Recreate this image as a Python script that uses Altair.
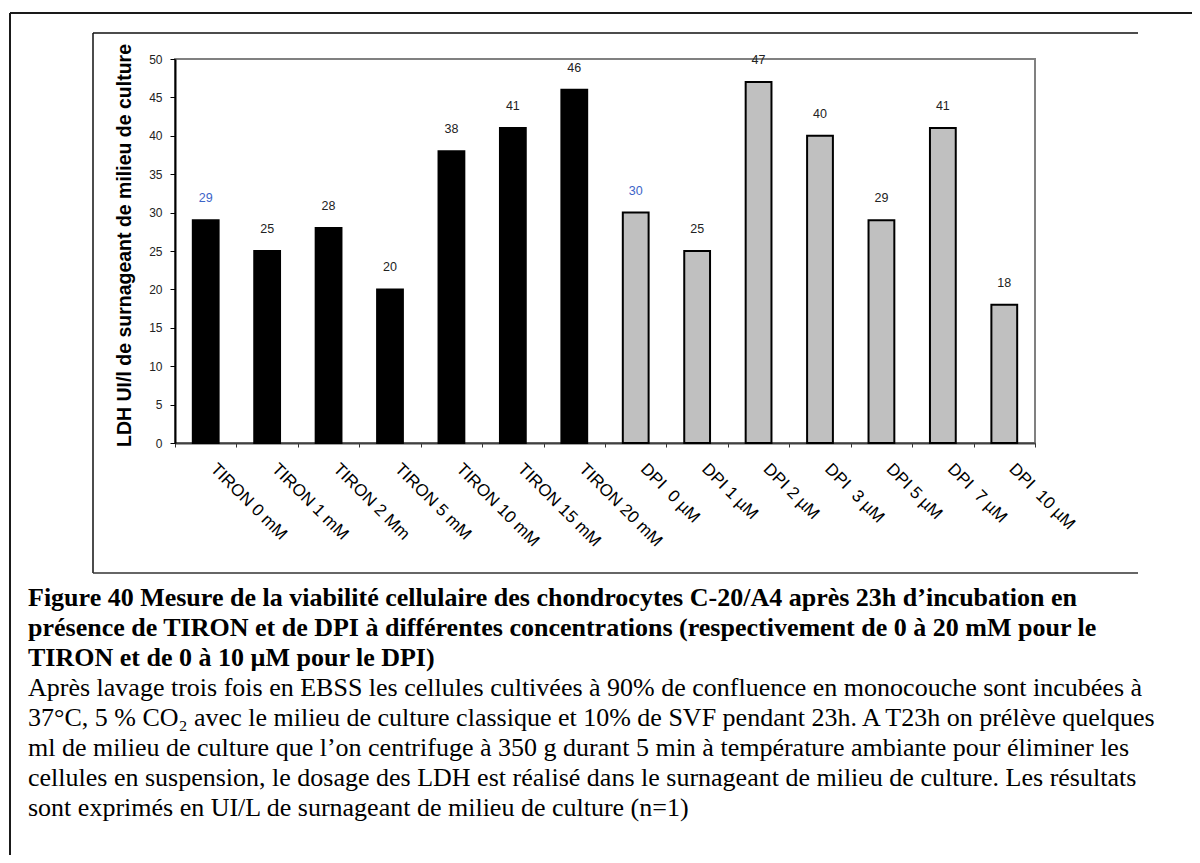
import altair as alt
import pandas as pd

# ---------------- data ----------------
categories = ["TIRON 0 mM", "TIRON 1 mM", "TIRON 2 Mm", "TIRON 5 mM", "TIRON 10 mM",
              "TIRON 15 mM", "TIRON 20 mM", "DPI\u00a0 0 µM", "DPI 1 µM", "DPI 2 µM",
              "DPI\u00a0 3 µM", "DPI 5 µM", "DPI\u00a0 7 µM", "DPI\u00a0 10 µM"]
groups = ["TIRON"] * 7 + ["DPI"] * 7
concentrations = [0, 1, 2, 5, 10, 15, 20, 0, 1, 2, 3, 5, 7, 10]
ldh_values = [29, 25, 28, 20, 38, 41, 46, 30, 25, 47, 40, 29, 41, 18]
y_ticks = [0, 5, 10, 15, 20, 25, 30, 35, 40, 45, 50]

y_title = "LDH UI/l de surnageant de milieu de culture"
caption_bold = [
    "Figure 40 Mesure de la viabilité cellulaire des chondrocytes C-20/A4 après 23h d’incubation en",
    "présence de TIRON et de DPI à différentes concentrations (respectivement de 0 à 20 mM pour le",
    "TIRON et de 0 à 10 µM pour le DPI)",
]
caption_text = [
    "Après lavage trois fois en EBSS les cellules cultivées à 90% de confluence en monocouche sont incubées à",
    "37°C, 5 % CO₂ avec le milieu de culture classique et 10% de SVF pendant 23h. A T23h on prélève quelques",
    "ml de milieu de culture que l’on centrifuge à 350 g durant 5 min à température ambiante pour éliminer les",
    "cellules en suspension, le dosage des LDH est réalisé dans le surnageant de milieu de culture. Les résultats",
    "sont exprimés en UI/L de surnageant de milieu de culture (n=1)",
]

df = pd.DataFrame({
    "category": categories,
    "group": groups,
    "concentration": concentrations,
    "value": ldh_values,
})

W, H = 860, 384
SANS = "Liberation Sans, Arial, Helvetica, sans-serif"
SERIF = "'Liberation Serif', 'Times New Roman', Times, serif"

x_enc = alt.X(
    "category:N", sort=categories,
    scale=alt.Scale(paddingInner=0, paddingOuter=0),
    axis=alt.Axis(
        title=None, labelAngle=45, labelAlign="left", labelBaseline="middle",
        labelFont=SANS, labelFontSize=17, labelColor="black",
        labelPadding=19, labelOffset=7, labelOverlap=False, tickBand="extent",
        tickSize=4, tickColor="#333333", domainColor="#404040", domainWidth=2,
    ),
)
y_enc = alt.Y(
    "value:Q", scale=alt.Scale(domain=[0, 50], nice=False),
    axis=alt.Axis(
        values=y_ticks, title=y_title, titleFont=SANS, titleFontSize=19.5,
        titleFontWeight="bold", titleColor="black", titleX=-51, titleY=186,
        titleBaseline="middle", titleAlign="center",
        labelFont=SANS, labelFontSize=12, labelColor="#222222",
        labelPadding=8, tickSize=5, tickColor="black", domainColor="black",
        domainWidth=2, grid=False,
    ),
)

base = alt.Chart(df)
bars = base.mark_bar(width=alt.RelativeBandSize(0.42), stroke="black", strokeWidth=2).encode(
    x=x_enc, y=y_enc,
    color=alt.Color("group:N", scale=alt.Scale(domain=["TIRON", "DPI"],
                                               range=["#000000", "#C0C0C0"]), legend=None),
)
labels = base.mark_text(dy=-22, baseline="middle", fontSize=12.5, font=SANS).encode(
    x=x_enc, y=y_enc, text="value:Q",
    color=alt.condition("datum.concentration == 0", alt.value("#3C64C8"), alt.value("#222222")),
)

one = pd.DataFrame({"d": [0]})


def hline(x1, x2, y, w, c):
    return alt.Chart(one).mark_rule(strokeWidth=w, color=c).encode(
        x=alt.value(x1), x2=alt.value(x2), y=alt.value(y))


def vline(x, y1, y2, w, c):
    return alt.Chart(one).mark_rule(strokeWidth=w, color=c).encode(
        x=alt.value(x), y=alt.value(y1), y2=alt.value(y2))


frame = [
    hline(-165, 1030, -46, 2, "#1a1a1a"),
    vline(-165, -46, 810, 2, "#1a1a1a"),
    hline(-82, 963, -26, 1.5, "#111111"),
    vline(-82, -26, 514, 1.5, "#111111"),
    hline(-82, 963, 514, 1.5, "#333333"),
]

cap_bold = alt.Chart(one).mark_text(
    text=caption_bold, align="left", baseline="alphabetic", lineHeight=30,
    font=SERIF, fontSize=26, fontWeight="bold", color="black",
).encode(x=alt.value(-147), y=alt.value(547))

cap_norm = alt.Chart(one).mark_text(
    text=caption_text, align="left", baseline="alphabetic", lineHeight=30,
    font=SERIF, fontSize=26, color="black",
).encode(x=alt.value(-147), y=alt.value(637))

chart = alt.layer(bars, labels, *frame, cap_bold, cap_norm).properties(
    width=W, height=H,
    autosize=alt.AutoSizeParams(type="none"),
    padding={"left": 167, "top": 51, "right": 157, "bottom": 412},
).configure_view(stroke="#808080", strokeWidth=2)

chart.save("out.html", embed_options={"renderer": "svg", "actions": False})
